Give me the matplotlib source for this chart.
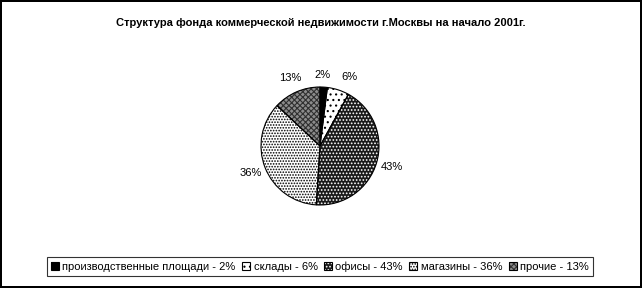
import matplotlib.pyplot as plt
import matplotlib.patches as mpatches
from matplotlib.legend_handler import HandlerTuple

plt.rcParams['font.family'] = ['Liberation Sans', 'DejaVu Sans']
plt.rcParams['hatch.linewidth'] = 0.8

title = 'Структура фонда коммерческой недвижимости г.Москвы на начало 2001г.'
names = ['производственные площади', 'склады', 'офисы', 'магазины', 'прочие']
shares = [2, 6, 43, 36, 13]
faces = ['black', 'white', '#1a1a1a', 'white', '#8c8c8c']
hatches = [None, '...', '.....', '......', 'xxxxxx']
hatch_cols = ['black', 'black', 'white', 'black', '#303030']

W, H = 642, 288
fig = plt.figure(figsize=(W / 100, H / 100), dpi=100)
fig.patch.set_edgecolor('black')
fig.patch.set_linewidth(1.5)

fig.text(321 / W, 1 - 23 / H, title, ha='center', va='center',
         fontsize=8, fontweight='bold')

# pie centre (320,146), radius ~59 px
cx, cy, r, half = 320, 146, 59, 90
ax = fig.add_axes([(cx - half) / W, (H - cy - half) / H, 2 * half / W, 2 * half / H])
wedges, texts = ax.pie(shares, labels=[f'{s}%' for s in shares], startangle=90,
                       counterclock=False, labeldistance=1.26,
                       textprops={'fontsize': 8})
for w, fc, h, hc in zip(wedges, faces, hatches, hatch_cols):
    w.set_facecolor(fc)
    w.set_edgecolor(hc)
    w.set_hatch(h)
    w.set_linewidth(0)
    ax.add_patch(mpatches.Wedge(w.center, w.r, w.theta1, w.theta2,
                                facecolor='none', edgecolor='black', linewidth=0.8))
for t in texts:
    t.set_ha('center')
    t.set_va('center')
# small slices: labels pushed apart, as Excel does
texts[0].set_position((0.05, 1.2))
texts[1].set_position((0.5, 1.17))
ax.set_xlim(-half / r, half / r)
ax.set_ylim(-half / r, half / r)
ax.set_aspect('equal')
ax.axis('off')

handles = []
for fc, h, hc in zip(faces, hatches, hatch_cols):
    fill = mpatches.Patch(facecolor=fc, edgecolor=hc, hatch=h, linewidth=0)
    box = mpatches.Patch(facecolor='none', edgecolor='black', linewidth=0.8)
    handles.append((fill, box))
labels = [f'{n} - {s}%' for n, s in zip(names, shares)]
leg = fig.legend(handles, labels, loc='center', bbox_to_anchor=(320 / W, 1 - 266.5 / H),
                 ncol=5, fontsize=8, frameon=True, fancybox=False,
                 handler_map={tuple: HandlerTuple(ndivide=1, pad=0)},
                 handlelength=0.7, handleheight=0.7, handletextpad=0.3,
                 columnspacing=0.6, borderpad=0.35, borderaxespad=0)
leg.get_frame().set_edgecolor('black')
leg.get_frame().set_linewidth(0.8)

fig.savefig('out.png', dpi=100)
